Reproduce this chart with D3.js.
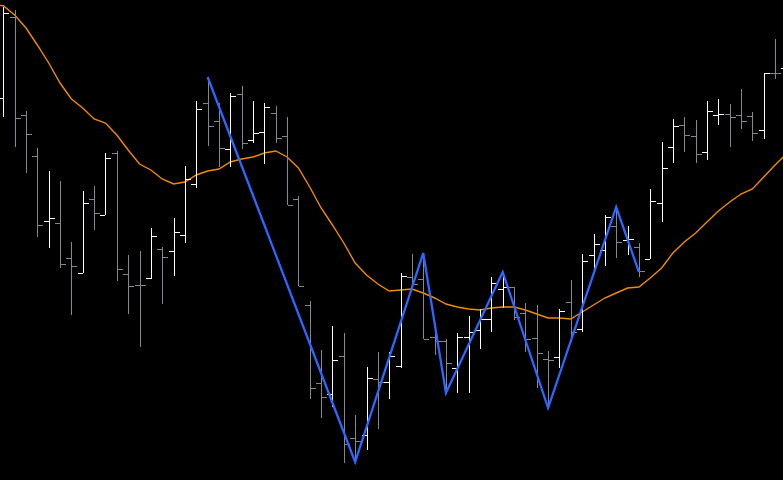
<!DOCTYPE html>
<html>
<head>
<meta charset="utf-8">
<script src="https://cdn.jsdelivr.net/npm/d3@7"></script>
<style>
    html, body { margin: 0; padding: 0; background: #000; overflow: hidden; }
</style>
</head>
<body>
<svg id="chart"></svg>
<script>
const width = 783;
const height = 480;

// OHLC per bar (first bar sits just off the left edge, last one is cut by the right edge)
const opens = [147.0, 140.2, 148.3, 138.5, 134.4, 127.9, 127.7, 124.2, 122.7, 130.1, 128.5, 134.7, 122.6, 121.5, 122.2, 125.1, 124.9, 126.5, 131.6, 139.7,
    137.9, 135.1, 140.6, 136.0, 136.8, 138.7, 136.4, 130.1, 119.5, 111.7, 110.6, 114.4, 106.2, 106.5, 112.1, 111.8, 113.4, 122.3, 122.1, 116.3,
    115.9, 113.2, 116.3, 117.0, 118.1, 121.1, 121.3, 118.7, 116.2, 114.1, 114.3, 119.8, 117.1, 124.5, 125.0, 127.4, 126.0, 125.3, 124.1, 129.7,
    135.3, 137.5, 136.4, 134.8, 138.5, 138.6, 138.5, 138.4, 137.0, 142.7, 143.2];
const highs = [149.8, 149.3, 149.0, 138.9, 135.2, 132.9, 131.9, 125.8, 130.9, 131.4, 134.7, 134.9, 124.5, 124.9, 127.2, 125.3, 128.2, 133.4, 139.9, 142.3,
    139.7, 140.7, 141.4, 139.9, 139.7, 139.4, 138.3, 130.4, 119.9, 115.0, 117.4, 116.7, 108.5, 113.3, 114.8, 114.8, 122.7, 124.6, 124.7, 117.2,
    116.1, 116.7, 118.4, 119.1, 122.3, 122.8, 121.3, 119.7, 119.5, 114.9, 119.1, 122.0, 124.6, 126.6, 128.5, 129.3, 127.4, 125.7, 131.1, 135.8,
    138.1, 138.3, 138.0, 139.9, 140.1, 139.6, 141.1, 138.8, 142.7, 146.1, 144.0];
const lows = [146.0, 138.3, 135.3, 132.7, 126.3, 125.2, 123.2, 118.5, 122.7, 127.0, 128.5, 121.9, 118.6, 115.3, 122.1, 119.6, 122.4, 125.7, 131.2, 135.4,
    133.3, 133.3, 135.1, 135.7, 133.6, 135.7, 129.5, 121.4, 110.1, 108.2, 109.3, 103.7, 103.6, 105.0, 107.1, 110.1, 113.2, 121.4, 116.1, 114.5,
    110.6, 110.7, 110.7, 115.1, 116.8, 119.2, 118.0, 114.8, 111.2, 109.2, 113.2, 115.8, 116.8, 122.8, 123.4, 124.2, 124.5, 122.3, 124.1, 127.8,
    133.7, 134.8, 133.7, 134.0, 137.5, 135.3, 137.1, 135.9, 136.1, 142.1, 142.0];
const closes = [148.9, 148.7, 138.2, 136.6, 127.5, 128.2, 123.6, 123.4, 129.7, 128.7, 134.2, 123.1, 121.4, 121.5, 126.4, 124.3, 126.8, 132.1, 139.1, 137.4,
    135.2, 140.4, 135.7, 136.7, 139.3, 136.2, 129.5, 121.4, 111.2, 110.3, 114.0, 105.6, 105.9, 112.2, 111.8, 114.4, 122.4, 121.6, 116.1, 115.9,
    113.7, 116.3, 116.8, 118.1, 121.7, 121.3, 118.3, 116.1, 114.7, 114.0, 118.9, 116.8, 123.9, 125.6, 128.3, 125.8, 126.1, 122.9, 129.9, 133.2,
    137.4, 136.5, 134.6, 138.9, 138.6, 138.3, 137.9, 136.7, 142.7, 142.7, 143.5];

// moving average, one value per bar
const maValues = [149.55, 149.43, 148.5, 147.2, 145.5, 143.7, 141.7, 140.1, 139.2, 138.1, 137.7, 136.5, 135.0, 133.6, 133.0, 132.1, 131.6, 131.8, 132.5, 132.9,
    133.1, 133.8, 134.1, 134.3, 134.7, 134.9, 134.3, 133.2, 131.3, 129.2, 127.5, 125.7, 123.7, 122.5, 121.6, 120.9, 121.0, 121.1, 120.7, 120.2,
    119.6, 119.3, 119.1, 119.0, 119.2, 119.3, 119.3, 119.0, 118.6, 118.2, 118.2, 118.1, 118.8, 119.5, 120.2, 120.7, 121.2, 121.3, 122.2, 123.2,
    124.7, 125.8, 126.7, 127.8, 128.9, 129.8, 130.6, 131.1, 132.3, 133.5, 134.6];

// zigzag pivots
const zigIndex = [19, 32, 38, 40, 45, 49, 55, 57];
const zigPrice = [142.3, 103.8, 124.7, 110.7, 122.8, 109.2, 129.3, 122.8];

const upColor = '#ffffff';
const downColor = '#868690';
const maColor = '#f08c00';
const zigColor = '#2d67ff';
const tick = 5;

const bars = opens.map((o, i) => ({i: i, o: o, h: highs[i], l: lows[i], c: closes[i]}));

const svg = d3.select('#chart')
    .attr('width', width)
    .attr('height', height)
    .style('display', 'block')
    .style('background', '#000');

const x = d3.scaleLinear().domain([0, bars.length - 1]).range([-8.05, 786.45]);
const y = d3.scaleLinear().domain([102, 150]).range([height, 0]);

const px = v => Math.round(v) + 0.5;

// moving average
const maLine = d3.line()
    .x((d, i) => x(i))
    .y(d => y(d))
    .curve(d3.curveLinear);

svg.append('path')
    .datum(maValues)
    .attr('fill', 'none')
    .attr('stroke', maColor)
    .attr('stroke-width', 1.4)
    .attr('d', maLine);

// OHLC bars
const g = svg.append('g').attr('class', 'bars');
const bar = g.selectAll('g').data(bars).enter().append('g')
    .attr('stroke', d => d.c > d.o ? upColor : downColor)
    .attr('stroke-width', 1);

bar.append('line')
    .attr('x1', d => px(x(d.i)))
    .attr('x2', d => px(x(d.i)))
    .attr('y1', d => Math.round(y(d.h)))
    .attr('y2', d => Math.round(y(d.l)));

bar.append('line')
    .attr('x1', d => Math.round(x(d.i)) - tick)
    .attr('x2', d => Math.round(x(d.i)))
    .attr('y1', d => px(y(d.o)))
    .attr('y2', d => px(y(d.o)));

bar.append('line')
    .attr('x1', d => Math.round(x(d.i)) + 1)
    .attr('x2', d => Math.round(x(d.i)) + 1 + tick)
    .attr('y1', d => px(y(d.c)))
    .attr('y2', d => px(y(d.c)));

// zigzag
const zig = zigIndex.map((v, k) => [v, zigPrice[k]]);
svg.append('path')
    .datum(zig)
    .attr('fill', 'none')
    .attr('stroke', zigColor)
    .attr('stroke-width', 2.3)
    .attr('stroke-linejoin', 'miter')
    .attr('d', d3.line().x(d => x(d[0])).y(d => y(d[1])));
</script>
</body>
</html>
